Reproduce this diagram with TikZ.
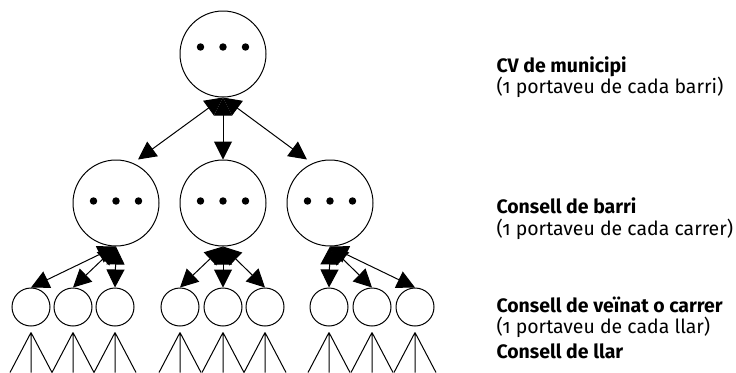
\documentclass[tikz,border=0pt]{standalone}
\usepackage{fontspec}
\setmainfont{Fira Sans}[Numbers=OldStyle]
\usetikzlibrary{arrows.meta, calc}
\tikzset{>={Triangle[length=13.5pt,width=13.5pt]}}

\begin{document}
\begin{tikzpicture}[x=0.75pt, y=-0.75pt, line width=0.75pt,
    council/.style={draw, circle, minimum size=64.5pt, inner sep=0pt,
      path picture={\foreach \k in {-1,0,1}
        \fill ($(path picture bounding box.center)+(\k*22.5,#1)$) circle (2.8pt);}},
    council/.default=0,
    home/.style={draw, circle, minimum size=28.5pt, inner sep=0pt},
    link/.style={<->},
    title/.style={anchor=base west, inner sep=0pt, font=\bfseries\fontsize{14.6}{17}\selectfont},
    note/.style={anchor=base west, inner sep=0pt, font=\fontsize{14.6}{17}\selectfont}]
        \useasboundingbox (0,0) rectangle (736,372);

        % municipi and barris
        \node[council=-7] (cv) at (223,54) {};
        \node[council=-2] (barri1) at (116,203) {};
        \node[council=-2] (barri2) at (223,203) {};
        \node[council=-2] (barri3) at (330,203) {};

        % carrers
        \node[home] (carrer11) at (31,307) {};
        \node[home] (carrer12) at (73,307) {};
        \node[home] (carrer13) at (115,307) {};
        \node[home] (carrer21) at (180,307) {};
        \node[home] (carrer22) at (223,307) {};
        \node[home] (carrer23) at (265,307) {};
        \node[home] (carrer31) at (329,307) {};
        \node[home] (carrer32) at (372,307) {};
        \node[home] (carrer33) at (415,307) {};

        \draw[link] (cv.south) -- ($(barri1.north)+(22,0)$);
        \draw[link] (cv.south) -- (barri2.north);
        \draw[link] (cv.south) -- ($(barri3.north)+(-23,0)$);

        \draw[link] (barri1.south) -- (carrer11.north);
        \draw[link] (barri1.south) -- (carrer12.north);
        \draw[link] (barri1.south) -- (carrer13.north);
        \draw[link] (barri2.south) -- (carrer21.north);
        \draw[link] (barri2.south) -- (carrer22.north);
        \draw[link] (barri2.south) -- (carrer23.north);
        \draw[link] (barri3.south) -- (carrer31.north);
        \draw[link] (barri3.south) -- (carrer32.north);
        \draw[link] (barri3.south) -- (carrer33.north);

        % llars
        \draw (carrer11.south) ++(0,6) coordinate (llar11) -- +(-21,40) (llar11) -- +(0,40) (llar11) -- +(21,40);
        \draw (carrer12.south) ++(0,6) coordinate (llar12) -- +(-21,40) (llar12) -- +(0,40) (llar12) -- +(21,40);
        \draw (carrer13.south) ++(0,6) coordinate (llar13) -- +(-21,40) (llar13) -- +(0,40) (llar13) -- +(21,40);
        \draw (carrer21.south) ++(0,6) coordinate (llar21) -- +(-21,40) (llar21) -- +(0,40) (llar21) -- +(21,40);
        \draw (carrer22.south) ++(0,6) coordinate (llar22) -- +(-21,40) (llar22) -- +(0,40) (llar22) -- +(21,40);
        \draw (carrer23.south) ++(0,6) coordinate (llar23) -- +(-21,40) (llar23) -- +(0,40) (llar23) -- +(21,40);
        \draw (carrer31.south) ++(0,6) coordinate (llar31) -- +(-21,40) (llar31) -- +(0,40) (llar31) -- +(21,40);
        \draw (carrer32.south) ++(0,6) coordinate (llar32) -- +(-21,40) (llar32) -- +(0,40) (llar32) -- +(21,40);
        \draw (carrer33.south) ++(0,6) coordinate (llar33) -- +(-21,40) (llar33) -- +(0,40) (llar33) -- +(21,40);

        \node[title] (lvlcv) at (496,72) {CV de municipi};
        \node[note] (notecv) at (496,93) {(1 portaveu de cada barri)};
        \node[title] (lvlbarri) at (496,213) {Consell de barri};
        \node[note] (notebarri) at (496,235) {(1 portaveu de cada carrer)};
        \node[title] (lvlcarrer) at (496,312) {Consell de veïnat o carrer};
        \node[note] (notecarrer) at (496,333) {(1 portaveu de cada llar)};
        \node[title] (lvlllar) at (496,358) {Consell de llar};
\end{tikzpicture}
\end{document}
